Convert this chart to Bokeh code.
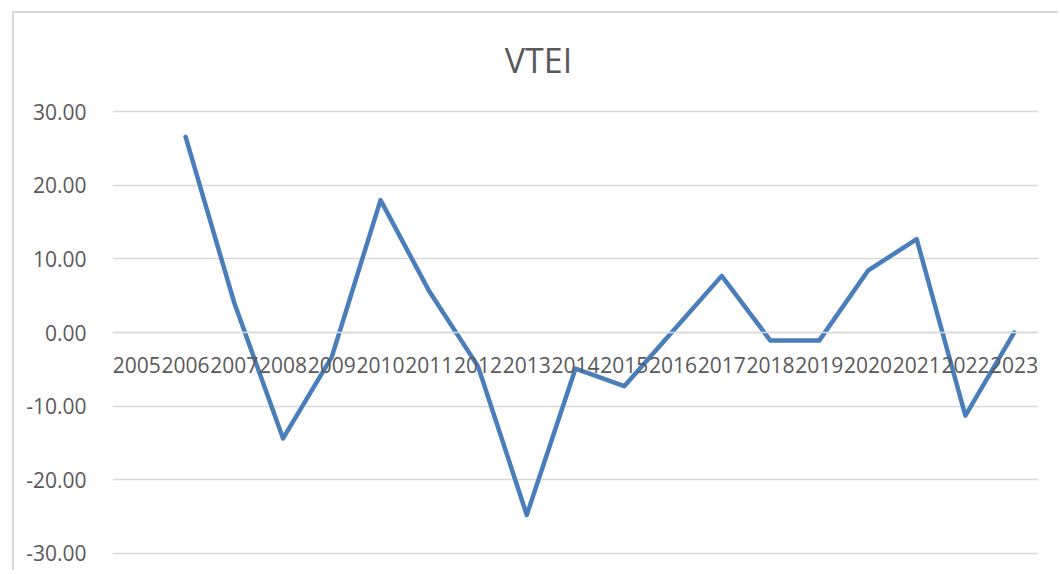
import math
from bokeh.plotting import figure
from bokeh.models import Range1d, FactorRange, FixedTicker, NumeralTickFormatter, ColumnDataSource, Label
from bokeh.embed import file_html
from bokeh.resources import INLINE

years = ["2005", "2006", "2007", "2008", "2009", "2010", "2011", "2012", "2013", "2014",
         "2015", "2016", "2017", "2018", "2019", "2020", "2021", "2022", "2023"]
vtei = [float("nan"), 26.6, 4.0, -14.4, -3.3, 18.0, 5.6, -4.6, -24.8, -4.9,
        -7.3, 0.2, 7.7, -1.1, -1.1, 8.4, 12.7, -11.3, 0.0]
y_ticks = [-30, -20, -10, 0, 10, 20, 30]
title_text = "VTEI"

FONT = "Open Sans"
TXT = "#595959"
GRID = "#d9d9d9"

src = ColumnDataSource(dict(year=years, v=vtei))

p = figure(width=1046, height=559, output_backend="svg", toolbar_location=None, title=None,
           x_range=FactorRange(factors=years, range_padding=0),
           y_range=Range1d(-31.13, 42.42),
           min_border_left=98, min_border_right=22, min_border_top=7, min_border_bottom=11)
p.margin = (11, 0, 0, 12)
p.styles = {"border-left": "2px solid #d9d9d9", "border-top": "2px solid #d9d9d9"}
p.outline_line_color = None
p.background_fill_color = "white"
p.border_fill_color = "white"

p.line(x="year", y="v", source=src, line_color="#4a7ebb", line_width=4.5,
       line_join="round", line_cap="round")

# chart title, centred over the chart area
p.add_layout(Label(x=8.74, y=37.0, text=title_text, text_font=FONT, text_font_size="34px",
                   text_color=TXT, text_align="center", text_baseline="alphabetic"))

# y axis
p.yaxis.ticker = FixedTicker(ticks=y_ticks)
p.yaxis.formatter = NumeralTickFormatter(format="0.00")
p.yaxis.axis_line_color = None
p.yaxis.major_tick_line_color = None
p.yaxis.minor_tick_line_color = None
p.yaxis.major_label_standoff = 20
p.yaxis.major_label_text_font = FONT
p.yaxis.major_label_text_font_size = "21px"
p.yaxis.major_label_text_color = TXT

# x axis crossing at zero
p.xaxis.fixed_location = 0
p.xaxis.axis_line_color = GRID
p.xaxis.axis_line_width = 1.5
p.xaxis.major_tick_line_color = None
p.xaxis.minor_tick_line_color = None
p.xaxis.major_label_standoff = 18
p.xaxis.major_label_text_font = FONT
p.xaxis.major_label_text_font_size = "21px"
p.xaxis.major_label_text_color = TXT

p.xgrid.grid_line_color = None
p.ygrid.ticker = FixedTicker(ticks=y_ticks)
p.ygrid.grid_line_color = GRID
p.ygrid.grid_line_width = 1.5

open("out.html", "w").write(file_html(p, INLINE))
